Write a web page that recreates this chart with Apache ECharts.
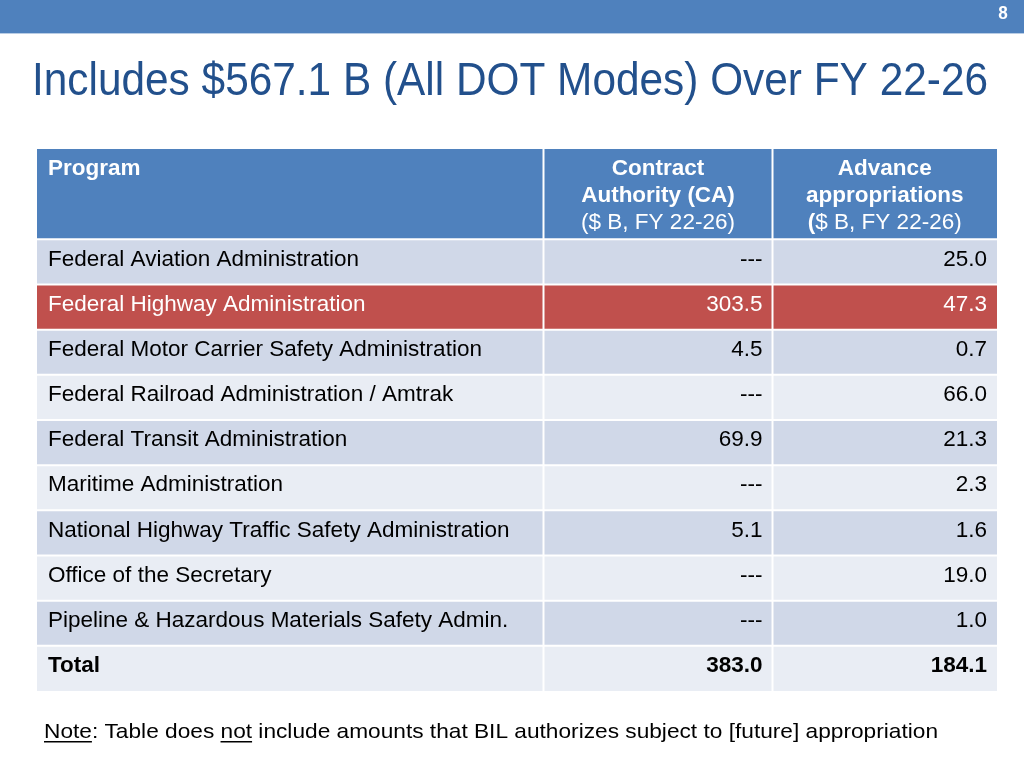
<!DOCTYPE html>
<html><head><meta charset="utf-8">
<script src="https://cdn.jsdelivr.net/npm/echarts@6/dist/echarts.min.js"></script>
<style>html,body{margin:0;padding:0;background:#fff}#c{width:1024px;height:768px}</style>
</head><body><div id="c"></div>
<script>
// ---- data ----
const titleText = 'Includes $567.1 B (All DOT Modes) Over FY 22-26';
const pageNumber = '8';
const headerProgram = 'Program';
const headerCA = ['Contract', 'Authority (CA)', '($ B, FY 22-26)'];
const headerAA = ['Advance', 'appropriations', '($ B, FY 22-26)'];
const programs = [
  'Federal Aviation Administration',
  'Federal Highway Administration',
  'Federal Motor Carrier Safety Administration',
  'Federal Railroad Administration / Amtrak',
  'Federal Transit Administration',
  'Maritime Administration',
  'National Highway Traffic Safety Administration',
  'Office of the Secretary',
  'Pipeline & Hazardous Materials Safety Admin.',
  'Total'
];
const caValues = [null, 303.5, 4.5, null, 69.9, null, 5.1, null, null, 383.0];
const aaValues = [25.0, 47.3, 0.7, 66.0, 21.3, 2.3, 1.6, 19.0, 1.0, 184.1];
const highlightRow = 1;   // Federal Highway Administration
const totalRow = 9;
const noteParts = ['Note', ': Table does ', 'not', ' include amounts that BIL authorizes subject to [future] appropriation'];

// ---- style ----
const FONT = "'Liberation Sans', Arial, Helvetica, sans-serif";
const C_HEAD = '#4F81BD', C_RED = '#C0504D', C_DARK = '#D0D8E8', C_LIGHT = '#E9EDF4';
const colEdges = [0, 506.5, 735.5, 960]; // layout in x-axis units (px width of table)
const CELL_FONT = 22.5;

const fmt = v => v == null ? '---' : v.toFixed(1);

function renderItem(params, api) {
  const idx = api.value(0); // 0 = header, 1..10 = rows
  const y0 = idx === 0 ? 0 : idx + 1;
  const y1 = idx === 0 ? 2 : idx + 2;
  const top = api.coord([0, y0])[1];
  const bot = api.coord([0, y1])[1];
  const xs = colEdges.map(e => api.coord([e, y0])[0]);
  const children = [];
  const r = idx - 1;
  let fill, txt = '#000', bold = false;
  if (idx === 0) { fill = C_HEAD; txt = '#fff'; }
  else if (r === highlightRow) { fill = C_RED; txt = '#fff'; }
  else fill = (r % 2 === 0) ? C_DARK : C_LIGHT;
  if (r === totalRow) bold = true;
  for (let c = 0; c < 3; c++) {
    const xa = xs[c] + (c > 0 ? 1 : 0);
    const xb = xs[c + 1] - (c < 2 ? 1 : 0);
    const ya = top + (idx > 0 ? 1 : 0);
    const yb = bot - (idx < 10 ? 1 : 0);
    children.push({ type: 'rect', shape: { x: xa, y: ya, width: xb - xa, height: yb - ya }, style: { fill: fill } });
  }
  const ty = top + 20;
  const mk = (text, x, y, align, isBold) => ({
    type: 'text',
    style: {
      text: text, x: x, y: y, fill: txt,
      font: (isBold ? 'bold ' : '') + CELL_FONT + 'px ' + FONT,
      align: align, verticalAlign: 'middle', textAlign: align, textVerticalAlign: 'middle'
    }
  });
  if (idx === 0) {
    children.push(mk(headerProgram, xs[0] + 11, ty, 'left', true));
    const cx1 = (xs[1] + xs[2]) / 2, cx2 = (xs[2] + xs[3]) / 2;
    for (let k = 0; k < 3; k++) {
      children.push(mk(headerCA[k], cx1, ty + 27 * k, 'center', k < 2));
    }
    for (let k = 0; k < 2; k++) {
      children.push(mk(headerAA[k], cx2, ty + 27 * k, 'center', true));
    }
    const last = headerAA[2];
    children.push({
      type: 'text',
      style: {
        text: '{b|' + last.charAt(0) + '}{n|' + last.slice(1) + '}',
        x: cx2, y: ty + 54, fill: '#fff',
        align: 'center', verticalAlign: 'middle', textAlign: 'center', textVerticalAlign: 'middle',
        rich: {
          b: { font: 'bold ' + CELL_FONT + 'px ' + FONT, fill: '#fff', color: '#fff' },
          n: { font: CELL_FONT + 'px ' + FONT, fill: '#fff', color: '#fff' }
        }
      }
    });
  } else {
    children.push(mk(programs[r], xs[0] + 11, ty, 'left', bold));
    children.push(mk(fmt(caValues[r]), xs[2] - 10, ty, 'right', bold));
    children.push(mk(fmt(aaValues[r]), xs[3] - 10, ty, 'right', bold));
  }
  return { type: 'group', children: children };
}

// condensed text: measure then scale horizontally
const cv = document.createElement('canvas').getContext('2d');
const TITLE_FONT = '47px ' + FONT;
cv.font = TITLE_FONT;
const titleScale = 956 / cv.measureText(titleText).width;

const NOTE_FONT = '21px ' + FONT;
cv.font = NOTE_FONT;
const noteFull = noteParts.join('');
const noteScale = 894 / cv.measureText(noteFull).width;
const w = noteParts.map(p => cv.measureText(p).width * noteScale);
const noteX = 44, noteY = 732, ulY = 741;

const chart = echarts.init(document.getElementById('c'), null, { renderer: 'canvas' });
chart.setOption({
  animation: false,
  backgroundColor: '#fff',
  grid: { left: 37, right: 27, top: 149, bottom: 77 },
  xAxis: { type: 'value', min: 0, max: 960, show: false },
  yAxis: { type: 'value', min: 0, max: 12, inverse: true, show: false },
  graphic: [
    { type: 'rect', shape: { x: 0, y: 0, width: 1024, height: 33 }, style: { fill: C_HEAD } },
    { type: 'rect', shape: { x: 0, y: 33, width: 1024, height: 1 }, style: { fill: '#B9CDE5' } },
    { type: 'text', x: 1003, y: 13.5, scaleX: 0.9, style: { text: pageNumber, font: 'bold 19px ' + FONT, fill: '#fff', textAlign: 'center', textVerticalAlign: 'middle' } },
    { type: 'text', x: 32, y: 82.5, scaleX: titleScale, style: { text: titleText, font: TITLE_FONT, fill: '#22508C', textAlign: 'left', textVerticalAlign: 'middle' } },
    { type: 'text', x: noteX, y: noteY, scaleX: noteScale, style: { text: noteFull, font: NOTE_FONT, fill: '#000', textAlign: 'left', textVerticalAlign: 'middle' } },
    { type: 'rect', shape: { x: noteX, y: ulY, width: w[0], height: 1.4 }, style: { fill: '#000' } },
    { type: 'rect', shape: { x: noteX + w[0] + w[1], y: ulY, width: w[2], height: 1.4 }, style: { fill: '#000' } }
  ],
  series: [{
    type: 'custom',
    renderItem: renderItem,
    data: [[0], [1], [2], [3], [4], [5], [6], [7], [8], [9], [10]],
    silent: true
  }]
});
</script>
</body></html>
